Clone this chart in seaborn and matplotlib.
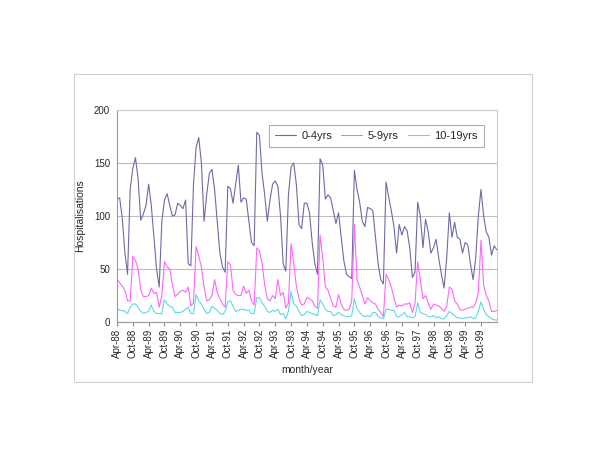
import numpy as np
import pandas as pd
import matplotlib
matplotlib.use("Agg")
import matplotlib.pyplot as plt
from matplotlib.patches import Rectangle
import seaborn as sns

# monthly hospitalisations, Apr-88 .. Apr-00
age_0_4 = [116, 117, 98, 65, 45, 125, 145, 155, 135, 96, 102, 110,
           130, 110, 80, 50, 33, 95, 115, 121, 110, 100, 101, 112,
           110, 107, 115, 55, 53, 130, 165, 174, 150, 95, 120, 140,
           144, 125, 95, 65, 52, 47, 128, 126, 112, 130, 148, 113,
           117, 116, 95, 75, 72, 179, 176, 140, 120, 95, 115, 130,
           133, 128, 100, 55, 48, 120, 146, 150, 130, 92, 88, 112,
           112, 103, 75, 55, 45, 154, 148, 116, 120, 117, 105, 93,
           103, 80, 58, 45, 43, 41, 143, 125, 113, 95, 90, 108,
           107, 105, 80, 55, 40, 36, 132, 118, 105, 90, 65, 92,
           82, 90, 86, 70, 42, 47, 113, 100, 70, 97, 85, 65,
           70, 78, 60, 45, 32, 60, 103, 80, 94, 80, 78, 65,
           75, 73, 55, 40, 60, 100, 125, 100, 85, 80, 63, 72,
           68]
age_5_9 = [41, 37, 34, 30, 20, 20, 62, 58, 50, 30, 24, 24,
           25, 32, 27, 28, 14, 25, 57, 52, 50, 35, 24, 26,
           29, 30, 28, 33, 15, 18, 71, 62, 52, 33, 20, 21,
           25, 40, 28, 22, 17, 14, 57, 54, 30, 26, 25, 25,
           34, 27, 30, 20, 16, 70, 67, 55, 35, 22, 20, 25,
           22, 40, 25, 28, 13, 18, 74, 55, 34, 22, 16, 17,
           23, 22, 20, 15, 13, 82, 60, 33, 30, 22, 15, 14,
           26, 17, 12, 11, 12, 20, 92, 40, 33, 25, 17, 23,
           20, 18, 17, 12, 9, 5, 45, 40, 33, 23, 14, 16,
           15, 17, 17, 18, 9, 18, 57, 40, 22, 25, 18, 12,
           17, 16, 15, 13, 10, 15, 33, 31, 20, 17, 12, 11,
           12, 13, 14, 14, 18, 28, 77, 35, 25, 20, 10, 10,
           11]
age_10_19 = [13, 11, 11, 10, 8, 14, 17, 17, 14, 10, 8, 9,
             10, 16, 10, 8, 8, 8, 21, 17, 15, 14, 9, 9,
             9, 10, 12, 14, 8, 8, 26, 20, 17, 12, 8, 9,
             15, 13, 11, 8, 7, 10, 19, 20, 15, 10, 11, 12,
             12, 11, 11, 8, 8, 23, 23, 18, 15, 10, 9, 11,
             10, 12, 7, 8, 3, 10, 29, 17, 15, 10, 6, 7,
             10, 9, 8, 7, 6, 21, 17, 12, 10, 10, 6, 7,
             9, 7, 6, 5, 5, 6, 22, 13, 9, 6, 5, 6,
             5, 9, 9, 5, 4, 3, 12, 12, 11, 11, 5, 5,
             7, 9, 5, 5, 4, 5, 18, 9, 8, 7, 5, 5,
             6, 4, 5, 3, 3, 6, 10, 8, 6, 4, 4, 3,
             4, 4, 5, 3, 4, 10, 19, 12, 7, 5, 3, 2,
             2]
series_names = ["0-4yrs", "5-9yrs", "10-19yrs"]
colors = ["#6b6ba8", "#ff66ff", "#5fd9e6"]

months = pd.date_range("1988-04-01", periods=len(age_0_4), freq="MS")
# labels every six months, last one Oct-99
tick_idx = list(range(0, len(months) - 1, 6))
tick_labels = [months[i].strftime("%b-%y") for i in tick_idx]

df = pd.DataFrame({"month": np.arange(len(months)),
                   series_names[0]: age_0_4,
                   series_names[1]: age_5_9,
                   series_names[2]: age_10_19})
long = df.melt(id_vars="month", var_name="group", value_name="hosp")

sns.set_style("white")
plt.rcParams["font.family"] = ["Liberation Sans", "DejaVu Sans"]

fig = plt.figure(figsize=(6, 4.63), dpi=100)
ax = fig.add_axes([0.195, 0.3045, 0.633, 0.458])

sns.lineplot(data=long, x="month", y="hosp", hue="group",
             palette=dict(zip(series_names, colors)), linewidth=0.8,
             ax=ax, legend=False)

ax.set_xlim(0, len(months) - 1)
ax.set_ylim(0, 200)
ax.set_yticks([0, 50, 100, 150, 200])
ax.yaxis.grid(True, color="#bdbdbd", linewidth=0.8)
ax.set_xticks(tick_idx)
ax.set_xticklabels(tick_labels, rotation=90, fontsize=7)
ax.tick_params(axis="y", labelsize=7, length=3, color="#888888", pad=2)
ax.tick_params(axis="x", length=3, color="#888888", pad=2, bottom=True)
ax.set_xlabel("month/year", fontsize=7.5, labelpad=5)
ax.set_ylabel("Hospitalisations", fontsize=7.5, labelpad=6)
for side in ["top", "right"]:
    ax.spines[side].set_color("#cccccc")
    ax.spines[side].set_linewidth(0.8)
for side in ["left", "bottom"]:
    ax.spines[side].set_color("#999999")
    ax.spines[side].set_linewidth(0.8)

handles = [plt.Line2D([], [], color=c, linewidth=0.8) for c in colors]
leg = ax.legend(handles, series_names, ncol=3, loc="upper right",
                bbox_to_anchor=(0.966, 0.93), borderaxespad=0,
                fontsize=8, frameon=True, fancybox=False,
                edgecolor="#999999", handlelength=1.9, handletextpad=0.5,
                columnspacing=0.8, borderpad=0.55)
leg.get_frame().set_linewidth(0.8)

# outer chart-area border
fig.add_artist(Rectangle((0.123, 0.175), 0.764, 0.665, fill=False,
                         edgecolor="#d0d0d0", linewidth=0.8,
                         transform=fig.transFigure))

fig.savefig("out.png", dpi=100)
